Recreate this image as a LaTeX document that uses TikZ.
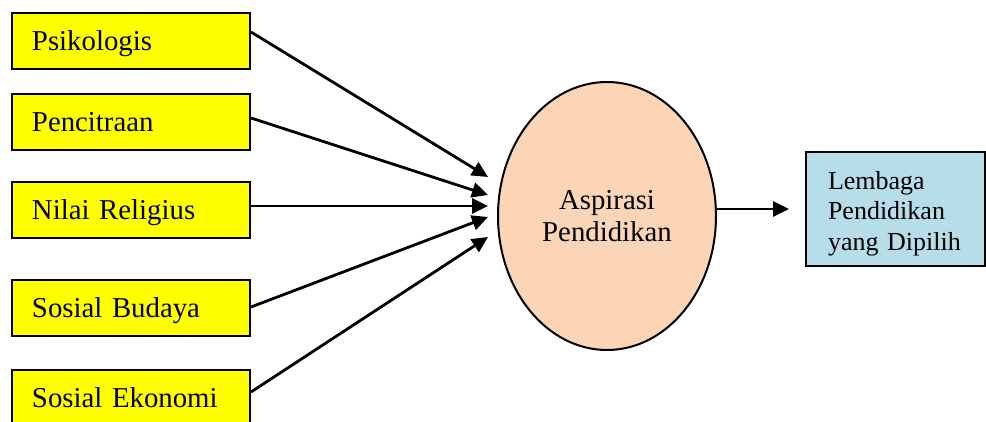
\documentclass[tikz,border=0pt]{standalone}
\usepackage{fontspec}
\setmainfont{Liberation Serif}
\usepackage{tikz}
\usetikzlibrary{shapes.geometric,arrows.meta}
\definecolor{boxyellow}{HTML}{FFFF00}
\definecolor{peach}{HTML}{FBD5B5}
\definecolor{lightblue}{HTML}{B7DDE8}
\tikzstyle{factor} = [draw=black, line width=1pt, fill=boxyellow, rectangle, minimum height=28pt, text width=99pt, text depth=0pt, inner xsep=10pt, align=left, font={\fontsize{14.4}{16}\selectfont}]
\tikzstyle{aspiration} = [draw=black, line width=1pt, fill=peach, ellipse, inner sep=0pt, minimum width=109pt, minimum height=134pt, align=center, font={\fontsize{14.4}{16}\selectfont}]
\tikzstyle{result} = [draw=black, line width=1pt, fill=lightblue, rectangle, minimum height=57pt, text width=67.5pt, text depth=29pt, inner xsep=11pt, align=left, font={\fontsize{13}{15.25}\selectfont}]
\tikzstyle{arr} = [line width=1.4pt, -{Triangle[length=8pt,width=7.5pt]}]

\begin{document}
\begin{tikzpicture}[x=0.5pt, y=-0.5pt]
    \useasboundingbox (0,0) rectangle (986,422);
    \node[factor](psi) at (131,41){Psikologis};
    \node[factor](pen) at (131,122){Pencitraan};
    \node[factor](nil) at (131,210){Nilai Religius};
    \node[factor](bud) at (131,308){Sosial Budaya};
    \node[factor](eko) at (131,398){Sosial Ekonomi};
    \node[aspiration](asp) at (607,216){Aspirasi\\Pendidikan};
    \node[result](lem) at (895.5,209){Lembaga\\Pendidikan\\yang Dipilih};
    \coordinate (in1) at (488,177);
    \coordinate (in2) at (488,195);
    \coordinate (in3) at (488,206);
    \coordinate (in4) at (488,217);
    \coordinate (in5) at (488,237);
    \draw[arr]([yshift=4.5pt]psi.east)--(in1);
    \draw[arr]([yshift=2pt]pen.east)--(in2);
    \draw[arr]([yshift=2pt]nil.east)--(in3);
    \draw[arr]([yshift=0.5pt]bud.east)--(in4);
    \draw[arr]([yshift=3pt]eko.east)--(in5);
    \draw[arr](asp.east |- lem.west)--([xshift=-8pt]lem.west);
\end{tikzpicture}
\end{document}
